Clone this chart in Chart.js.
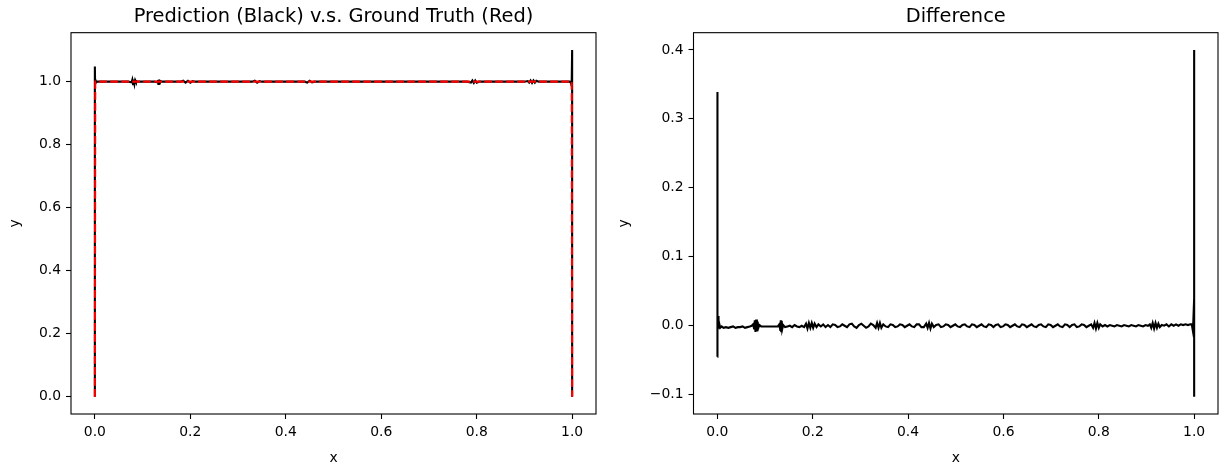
<!DOCTYPE html>
<html><head><meta charset="utf-8">
<script src="https://cdn.jsdelivr.net/npm/chart.js@4.4.1/dist/chart.umd.min.js"></script>
<style>
html,body{margin:0;padding:0;background:#fff;}
#wrap{position:relative;width:1225px;height:467px;overflow:hidden;}
#c1{position:absolute;left:0;top:0;}
#c2{position:absolute;left:612px;top:0;}
</style></head><body>
<div id="wrap"><canvas id="c1" width="612" height="467"></canvas><canvas id="c2" width="613" height="467"></canvas></div>
<script>
// ---- data ----
const xTicks = [0, 0.2, 0.4, 0.6, 0.8, 1.0];
const leftYTicks = [0, 0.2, 0.4, 0.6, 0.8, 1.0];
const rightYTicks = [-0.1, 0, 0.1, 0.2, 0.3, 0.4];

const truthX = [0, 0.0008, 0.9992, 1];
const truthY = [0, 1, 1, 0];

const predX = [0, 0, 0.0005, 0.0015, 0.003, 0.006, 0.01, 0.02, 0.03, 0.04, 0.05, 0.06, 0.07, 0.077, 0.0785, 0.080, 0.0815, 0.083, 0.0845, 0.086, 0.095, 0.105, 0.115, 0.125, 0.131, 0.132, 0.133, 0.134, 0.135, 0.136, 0.140,
  0.15, 0.16, 0.17, 0.18, 0.185, 0.19, 0.195, 0.20, 0.205, 0.21, 0.22, 0.23, 0.24, 0.25, 0.26, 0.27, 0.28, 0.29, 0.30, 0.31, 0.32, 0.33, 0.335, 0.34, 0.345, 0.35, 0.36, 0.37, 0.38, 0.39, 0.40,
  0.41, 0.42, 0.43, 0.44, 0.445, 0.45, 0.455, 0.46, 0.47, 0.48, 0.49, 0.50, 0.51, 0.52, 0.53, 0.54, 0.55, 0.56, 0.57, 0.58, 0.59, 0.60, 0.61, 0.62, 0.63, 0.64, 0.65, 0.66, 0.67, 0.68, 0.69, 0.70,
  0.71, 0.72, 0.73, 0.74, 0.75, 0.76, 0.77, 0.78, 0.788, 0.791, 0.794, 0.797, 0.800, 0.805, 0.81, 0.82, 0.83, 0.84, 0.85, 0.86, 0.87, 0.88, 0.89, 0.90, 0.907, 0.910, 0.913, 0.916, 0.919, 0.922, 0.925, 0.93,
  0.94, 0.95, 0.96, 0.97, 0.98, 0.99, 0.995, 0.998, 0.999, 1.0, 1.0];
const predY = [0, 1.048, 0.996, 1.004, 0.999, 1.000, 1.000, 1.000, 1.000, 1.000, 1.000, 1.000, 1.000, 0.998, 1.006, 0.992, 1.007, 0.993, 1.005, 1.000, 1.000, 1.000, 1.000, 1.000, 0.998, 1.005, 0.993, 1.006, 0.994, 1.003, 1.000,
  1.000, 1.000, 1.000, 1.000, 1.003, 0.997, 1.003, 0.997, 1.002, 1.000, 1.000, 1.000, 1.000, 1.000, 1.000, 1.000, 1.000, 1.000, 1.000, 1.000, 1.000, 1.000, 1.003, 0.997, 1.002, 1.000, 1.000, 1.000, 1.000, 1.000, 1.000,
  1.000, 1.000, 1.000, 1.000, 0.997, 1.003, 0.998, 1.000, 1.000, 1.000, 1.000, 1.000, 1.000, 1.000, 1.000, 1.000, 1.000, 1.000, 1.000, 1.000, 1.000, 1.000, 1.000, 1.000, 1.000, 1.000, 1.000, 1.000, 1.000, 1.000, 1.000, 1.000,
  1.000, 1.000, 1.000, 1.000, 1.000, 1.000, 1.000, 1.000, 0.997, 1.004, 0.996, 1.004, 0.997, 1.000, 1.000, 1.000, 1.000, 1.000, 1.000, 1.000, 1.000, 1.000, 1.000, 1.000, 1.002, 0.997, 1.004, 0.996, 1.004, 0.997, 1.003, 1.000,
  1.000, 1.000, 1.000, 1.000, 1.000, 1.000, 1.000, 0.995, 0.985, 1.1005, 0];

const diffX = [0, 0, 0.0005, 0.0015, 0.0025, 0.004, 0.006, 0.009, 0.013, 0.018, 0.023, 0.028, 0.033, 0.038, 0.043, 0.048, 0.053, 0.058, 0.063, 0.068, 0.072, 0.075, 0.077, 0.0785, 0.080, 0.0815, 0.083, 0.0845, 0.086, 0.088,
  0.092, 0.097, 0.102, 0.107, 0.112, 0.117, 0.122, 0.127, 0.130, 0.132, 0.133, 0.134, 0.135, 0.136, 0.138, 0.142, 0.147, 0.152, 0.157, 0.162, 0.167, 0.172, 0.177, 0.182, 0.186, 0.189, 0.192, 0.195, 0.198, 0.201, 0.204, 0.208,
  0.212, 0.217, 0.222, 0.227, 0.232, 0.237, 0.242, 0.247, 0.252, 0.257, 0.262, 0.267, 0.272, 0.277, 0.282, 0.287, 0.292, 0.297, 0.302, 0.307, 0.312, 0.317, 0.322, 0.327, 0.332, 0.335, 0.338, 0.341, 0.344, 0.348,
  0.353, 0.358, 0.363, 0.368, 0.373, 0.378, 0.383, 0.388, 0.393, 0.398, 0.403, 0.408, 0.413, 0.418, 0.423, 0.428, 0.433, 0.438, 0.441, 0.444, 0.447, 0.450, 0.454, 0.459, 0.464, 0.469, 0.474, 0.479, 0.484, 0.489,
  0.494, 0.499, 0.504, 0.509, 0.514, 0.519, 0.524, 0.529, 0.534, 0.539, 0.544, 0.549, 0.554, 0.559, 0.564, 0.569, 0.574, 0.579, 0.584, 0.589, 0.594, 0.599, 0.604, 0.609, 0.614, 0.619, 0.624, 0.629, 0.634, 0.639,
  0.644, 0.649, 0.654, 0.659, 0.664, 0.669, 0.674, 0.679, 0.684, 0.689, 0.694, 0.699, 0.704, 0.709, 0.714, 0.719, 0.724, 0.729, 0.734, 0.739, 0.744, 0.749, 0.754, 0.759, 0.764, 0.769, 0.774, 0.779, 0.784, 0.788,
  0.791, 0.794, 0.797, 0.800, 0.803, 0.808, 0.813, 0.818, 0.823, 0.828, 0.833, 0.838, 0.843, 0.848, 0.853, 0.858, 0.863, 0.868, 0.873, 0.878, 0.883, 0.888, 0.893, 0.898, 0.903, 0.907, 0.910, 0.913, 0.916, 0.919,
  0.922, 0.925, 0.928, 0.932, 0.937, 0.942, 0.947, 0.952, 0.957, 0.962, 0.967, 0.972, 0.977, 0.982, 0.987, 0.992, 0.995, 0.997, 0.998, 1.0, 1.0, 1.0, 1.0, 1.0];
const diffY = [-0.045, 0.339, 0.000, 0.014, -0.004, 0.003, -0.003, -0.001, -0.003, -0.002, -0.003, -0.002, -0.001, -0.003, -0.002, -0.002, -0.001, -0.003, -0.002, -0.001, 0.000, 0.002, -0.004, 0.008, -0.009, 0.009, -0.008, 0.006, -0.003, 0.001,
  -0.001, -0.001, -0.001, -0.001, -0.001, -0.001, -0.001, -0.001, 0.002, -0.006, 0.008, -0.008, 0.007, -0.005, 0.001, -0.002, -0.001, 0.000, -0.002, 0.001, -0.001, -0.002, 0.000, -0.002, 0.003, -0.004, 0.004, -0.003, 0.004, -0.003, 0.003, -0.002,
  0.002, -0.001, 0.002, -0.002, 0.001, -0.002, 0.002, 0.001, -0.002, -0.001, 0.002, 0.000, -0.002, 0.002, 0.003, -0.001, -0.003, 0.001, 0.003, 0.000, -0.003, -0.001, 0.003, 0.001, -0.003, 0.004, -0.003, 0.004, -0.003, 0.002,
  -0.001, -0.002, 0.002, 0.001, -0.002, -0.001, 0.002, 0.001, -0.002, 0.000, 0.002, -0.001, -0.002, 0.002, 0.002, -0.002, -0.002, 0.003, -0.003, 0.004, -0.004, 0.003, -0.002, 0.001, 0.002, -0.002, -0.001, 0.002, 0.001, -0.002,
  0.000, 0.002, -0.001, -0.002, 0.001, 0.002, -0.001, -0.002, 0.002, 0.001, -0.002, 0.000, 0.002, -0.001, -0.002, 0.002, 0.001, -0.002, 0.001, 0.002, -0.002, -0.001, 0.002, 0.001, -0.002, 0.000, 0.002, -0.001, -0.002, 0.002,
  0.001, -0.002, 0.000, 0.002, -0.001, -0.002, 0.001, 0.002, -0.001, -0.002, 0.002, 0.001, -0.002, 0.000, 0.002, -0.001, -0.002, 0.002, 0.001, -0.002, 0.001, 0.002, -0.002, -0.001, 0.002, 0.001, -0.002, 0.000, 0.002, -0.003,
  0.004, -0.004, 0.004, -0.003, 0.002, -0.001, 0.001, -0.001, 0.001, 0.000, -0.001, 0.001, 0.000, -0.001, 0.001, 0.000, -0.001, 0.001, 0.000, -0.001, 0.001, 0.000, -0.001, 0.001, 0.000, 0.002, -0.003, 0.004, -0.004, 0.004,
  -0.003, 0.003, -0.002, 0.001, 0.000, 0.002, -0.001, 0.002, 0.000, 0.002, 0.000, 0.002, 0.001, 0.002, 0.001, 0.002, 0.002, -0.006, 0.001, 0.040, -0.103, 0.035, -0.103, 0.400];

// ---- helpers ----
const FONT = "'DejaVu Sans', sans-serif";
const pts = (xs, ys) => xs.map((x, i) => ({x: x, y: ys[i]}));
const fmt = v => (v < -1e-9 ? '\u2212' : '') + Math.abs(v).toFixed(1);

const boxPlugin = {
  id: 'box',
  afterDraw(chart) {
    const a = chart.chartArea, ctx = chart.ctx;
    ctx.save();
    ctx.strokeStyle = '#000';
    ctx.lineWidth = 1.1;
    ctx.strokeRect(a.left, a.top, a.right - a.left, a.bottom - a.top);
    ctx.restore();
  }
};

function axis(ticksArr, min, max, label, isX, fitSize, titlePad) {
  return {
    type: 'linear',
    min: min, max: max,
    afterBuildTicks: s => { s.ticks = ticksArr.map(v => ({value: v})); },
    afterFit: s => { if (isX) s.height = fitSize; else s.width = fitSize; },
    grid: {display: true, drawOnChartArea: false, drawTicks: true, tickLength: 5, tickWidth: 1.1, tickColor: '#000'},
    border: {display: false},
    ticks: {color: '#000', font: {family: FONT, size: 13.9}, padding: 5, autoSkip: false, maxRotation: 0, callback: v => fmt(v)},
    title: {display: true, text: label, color: '#000', font: {family: FONT, size: 13.9, lineHeight: 1}, padding: titlePad}
  };
}

function makeChart(id, datasets, title, xs, ys, padRight) {
  return new Chart(document.getElementById(id), {
    type: 'scatter',
    data: {datasets: datasets},
    options: {
      responsive: false, animation: false, devicePixelRatio: 1,
      layout: {padding: {left: 0, right: padRight, top: 0, bottom: 0}},
      plugins: {
        legend: {display: false}, tooltip: {enabled: false},
        title: {display: true, text: title, color: '#000', fullSize: false,
                font: {family: FONT, size: 19.4, weight: 'normal', lineHeight: 1.2},
                padding: {top: 5, bottom: 4.4}}
      },
      scales: {x: xs, y: ys}
    },
    plugins: [boxPlugin]
  });
}

makeChart('c1', [
  {data: pts(truthX, truthY), showLine: true, borderColor: '#ff0000', borderWidth: 2.1, borderDash: [7.7, 3.3], pointRadius: 0, order: 0},
  {data: pts(predX, predY), showLine: true, borderColor: '#000000', borderWidth: 2.1, pointRadius: 0, order: 1}
], 'Prediction (Black) v.s. Ground Truth (Red)',
  axis(xTicks, -0.05, 1.05, 'x', true, 53, {top: 0, bottom: 2}),
  axis(leftYTicks, -0.055, 1.1555, 'y', false, 71, {top: 8, bottom: 0}),
  16);

makeChart('c2', [
  {data: pts(diffX, diffY), showLine: true, borderColor: '#000000', borderWidth: 2.1, pointRadius: 0}
], 'Difference',
  axis(xTicks, -0.05, 1.05, 'x', true, 53, {top: 0, bottom: 2}),
  axis(rightYTicks, -0.128, 0.425, 'y', false, 81.5, {top: 5, bottom: 0}),
  7);
</script>
</body></html>
